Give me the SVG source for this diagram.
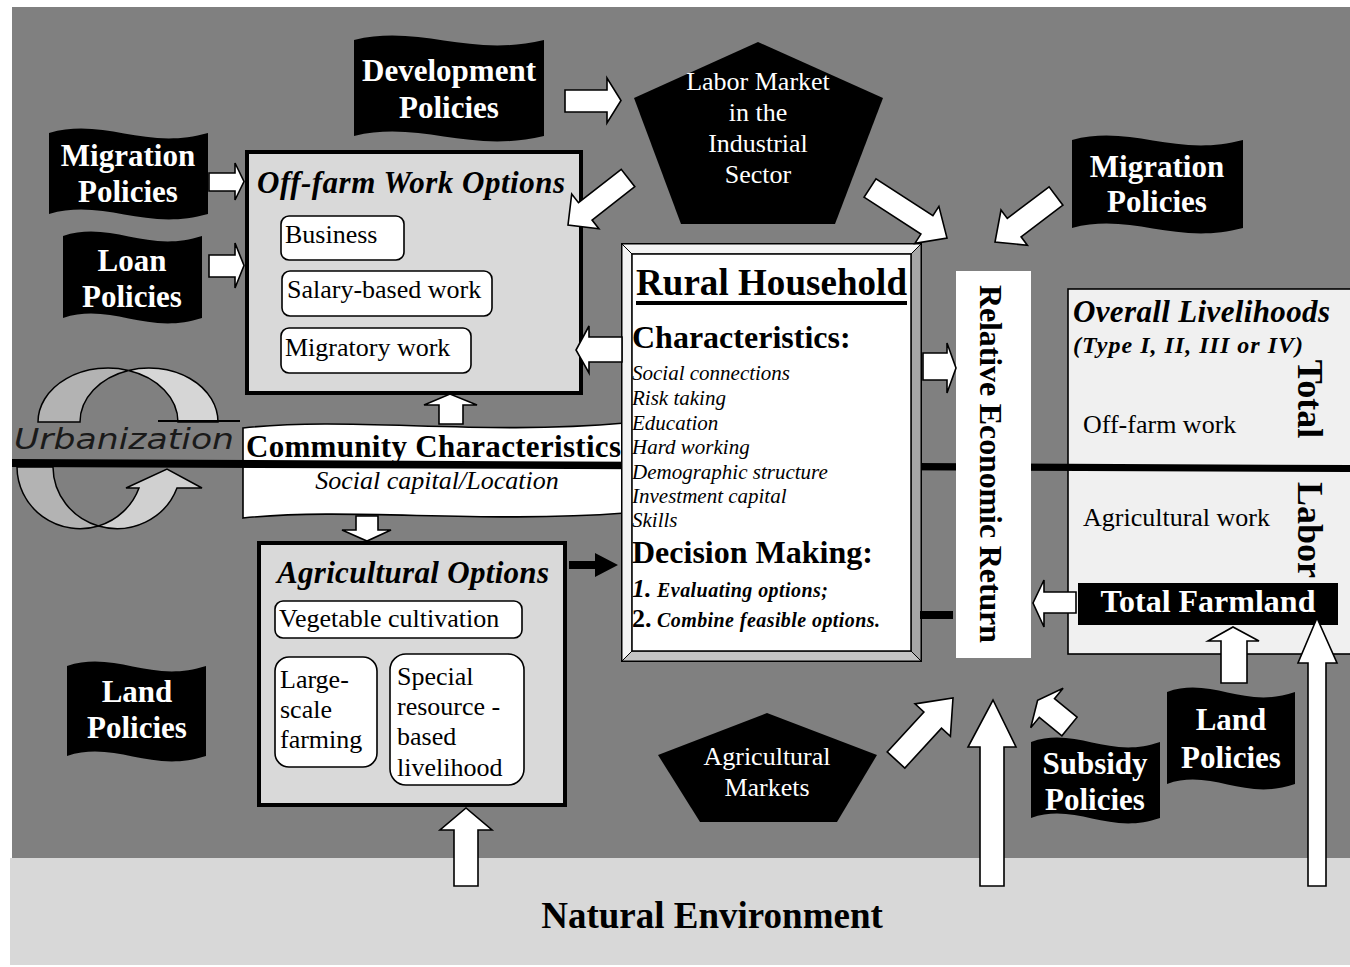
<svg xmlns="http://www.w3.org/2000/svg" width="1350" height="967" viewBox="0 0 1350 967">
<style>
text{font-family:"Liberation Serif","Times New Roman",serif}
.ft{fill:#fff;font-weight:bold;font-size:31px;text-anchor:middle}
.pt{fill:#fff;font-size:26px;text-anchor:middle}
.flag,.pent{fill:#000}
.arr{fill:#fff;stroke:#000;stroke-width:1.6;stroke-linejoin:miter}
.opt{fill:#fff;stroke:#000;stroke-width:1.6}
.obox{fill:#d9d9d9;stroke:#000;stroke-width:4}
.ot{font-size:26px}
.bi{font-weight:bold;font-style:italic}
.b{font-weight:bold}
.ch{font-size:21px;font-style:italic}
.cres{stroke:#000;stroke-width:1.5}
</style>
<g id="background">
<rect x="0" y="0" width="1350" height="967" fill="#fff"/>
<rect x="12" y="7" width="1338" height="851" fill="#808080"/>
<rect x="10" y="858" width="1340" height="107" fill="#d8d8d8"/>
</g>
<g id="natural-environment">
<text x="712" y="928" class="b" font-size="37" text-anchor="middle">Natural Environment</text>
</g>
<g id="urbanization">
<path class="cres" fill="#b3b3b3" d="M38,422 A70,54 0 0 1 128.5,370.4 A69,54 0 0 0 80,422 Z"/>
<path class="cres" fill="#d6d6d6" d="M128.5,370.4 A69,54 0 0 1 218,422 L178,422 A70,54 0 0 0 128.5,370.4 Z"/>
<path class="cres" fill="#b3b3b3" d="M17,467 A63,62 0 0 0 98.5,526 A64,62 0 0 1 53,467 Z"/>
<path class="cres" fill="#d0d0d0" d="M98.5,526 A63,62 0 0 0 139,488 L126,488 L167,469 L202,488 L177,488 A64,62 0 0 1 98.5,526 Z"/>
<line x1="158" y1="421" x2="240" y2="421" stroke="#000" stroke-width="2"/>
<text x="14" y="449" font-style="italic" font-size="28" fill="#1a1a1a" textLength="220" lengthAdjust="spacingAndGlyphs" style="font-family:'DejaVu Sans',sans-serif">Urbanization</text>
</g>
<g id="livelihoods">
<rect x="1068" y="289" width="290" height="365" fill="#f0f0f0" stroke="#000" stroke-width="1.6"/>
<text x="1073" y="322" class="bi" font-size="31" textLength="257">Overall Livelihoods</text>
<text x="1073" y="353" class="bi" font-size="24" textLength="230">(Type I, II, III or IV)</text>
<text x="1083" y="433" font-size="26">Off-farm work</text>
<text x="1083" y="526" font-size="26">Agricultural work</text>
<text transform="translate(1298,399) rotate(90)" class="b" font-size="36" text-anchor="middle">Total</text>
<text transform="translate(1298,530) rotate(90)" class="b" font-size="36" text-anchor="middle">Labor</text>
</g>
<g id="community">
<path d="M243,428 C350,416 480,436 625,423 L625,513 C480,524 350,507 243,518 Z" fill="#fff" stroke="#000" stroke-width="1.6"/>
<text x="246" y="457" class="b" font-size="31" textLength="375">Community Characteristics</text>
<text x="437" y="489" font-size="26" font-style="italic" text-anchor="middle">Social capital/Location</text>
</g>
<g id="divider">
<polygon points="12,459 1350,465 1350,472 12,467" fill="#000"/>
</g>
<g id="total-farmland">
<rect x="1078" y="583" width="260" height="42" fill="#000"/>
<text x="1208" y="612" class="b" font-size="32" fill="#fff" text-anchor="middle">Total Farmland</text>
</g>
<g id="off-farm">
<rect class="obox" x="247" y="152" width="334" height="241"/>
<text x="257" y="193" class="bi" font-size="31" textLength="308">Off-farm Work Options</text>
<rect class="opt" x="281" y="216" width="123" height="44" rx="8"/>
<text x="285" y="243" class="ot">Business</text>
<rect class="opt" x="282" y="271" width="210" height="45" rx="8"/>
<text x="287" y="298" class="ot">Salary-based work</text>
<rect class="opt" x="281" y="328" width="190" height="45" rx="8"/>
<text x="285" y="356" class="ot">Migratory work</text>
</g>
<g id="agricultural">
<rect class="obox" x="259" y="543" width="306" height="262"/>
<text x="277" y="583" class="bi" font-size="31" textLength="272">Agricultural Options</text>
<rect class="opt" x="275" y="601" width="247" height="37" rx="8"/>
<text x="279" y="627" class="ot">Vegetable cultivation</text>
<rect class="opt" x="275" y="657" width="102" height="110" rx="14"/>
<text x="280" y="688" class="ot">Large-</text>
<text x="280" y="718" class="ot">scale</text>
<text x="280" y="748" class="ot">farming</text>
<rect class="opt" x="390" y="654" width="134" height="131" rx="16"/>
<text x="397" y="685" class="ot">Special</text>
<text x="397" y="715" class="ot">resource -</text>
<text x="397" y="745" class="ot">based</text>
<text x="397" y="776" class="ot">livelihood</text>
</g>
<g id="development-policies">
<path class="flag" d="M354,40 C420.5,24 468,58 544,40 L544,136 C468,154 420.5,120 354,136 Z"/>
<text x="449" y="81" class="ft">Development</text>
<text x="449" y="118" class="ft">Policies</text>
</g>
<g id="migration-policies-left">
<path class="flag" d="M49,133 C104.7,117 144.4,151 208,133 L208,214 C144.4,232 104.7,198 49,214 Z"/>
<text x="128" y="166" class="ft">Migration</text>
<text x="128" y="202" class="ft">Policies</text>
</g>
<g id="loan-policies">
<path class="flag" d="M63,236 C111.7,220 146.4,254 202,236 L202,318 C146.4,336 111.7,302 63,318 Z"/>
<text x="132" y="271" class="ft">Loan</text>
<text x="132" y="307" class="ft">Policies</text>
</g>
<g id="land-policies-left">
<path class="flag" d="M67,666 C115.7,650 150.4,684 206,666 L206,756 C150.4,774 115.7,740 67,756 Z"/>
<text x="137" y="702" class="ft">Land</text>
<text x="137" y="738" class="ft">Policies</text>
</g>
<g id="migration-policies-right">
<path class="flag" d="M1072,140 C1131.9,124 1174.6,158 1243,140 L1243,228 C1174.6,246 1131.9,212 1072,228 Z"/>
<text x="1157" y="177" class="ft">Migration</text>
<text x="1157" y="212" class="ft">Policies</text>
</g>
<g id="subsidy-policies">
<path class="flag" d="M1031,742 C1076.2,726 1108.4,760 1160,742 L1160,818 C1108.4,836 1076.2,802 1031,818 Z"/>
<text x="1095" y="774" class="ft">Subsidy</text>
<text x="1095" y="810" class="ft">Policies</text>
</g>
<g id="land-policies-right">
<path class="flag" d="M1167,692 C1211.8,676 1243.8,710 1295,692 L1295,784 C1243.8,802 1211.8,768 1167,784 Z"/>
<text x="1231" y="730" class="ft">Land</text>
<text x="1231" y="768" class="ft">Policies</text>
</g>
<g id="labor-market">
<polygon class="pent" points="758,42 883,98 835,224 681,224 634,98"/>
<text x="758" y="90" class="pt">Labor Market</text>
<text x="758" y="121" class="pt">in the</text>
<text x="758" y="152" class="pt">Industrial</text>
<text x="758" y="183" class="pt">Sector</text>
</g>
<g id="agricultural-markets">
<polygon class="pent" points="767,713 877,755 837,822 700,822 658,755"/>
<text x="767" y="765" class="pt">Agricultural</text>
<text x="767" y="796" class="pt">Markets</text>
</g>
<g id="rural-household">
<rect x="622" y="244" width="299" height="417" fill="#fff" stroke="#000" stroke-width="2"/>
<polygon points="921,244 921,661 911,651 911,254" fill="#a6a6a6" stroke="#000" stroke-width="1"/>
<polygon points="622,661 921,661 911,651 632,651" fill="#c4c4c4" stroke="#000" stroke-width="1"/>
<polygon points="622,244 921,244 911,254 632,254" fill="#f4f4f4" stroke="#000" stroke-width="1"/>
<polygon points="622,244 632,254 632,651 622,661" fill="#f4f4f4" stroke="#000" stroke-width="1"/>
<rect x="632" y="254" width="279" height="397" fill="#fff" stroke="#000" stroke-width="1.5"/>
<text x="636" y="295" class="b" font-size="37" textLength="271">Rural Household</text>
<rect x="636" y="301" width="271" height="4" fill="#000"/>
<text x="632" y="348" class="b" font-size="32">Characteristics:</text>
<text x="632" y="380" class="ch">Social connections</text>
<text x="632" y="405" class="ch">Risk taking</text>
<text x="632" y="430" class="ch">Education</text>
<text x="632" y="454" class="ch">Hard working</text>
<text x="632" y="479" class="ch">Demographic structure</text>
<text x="632" y="503" class="ch">Investment capital</text>
<text x="632" y="527" class="ch">Skills</text>
<text x="632" y="563" class="b" font-size="32">Decision Making:</text>
<text x="632" y="597" class="bi" font-size="26">1.</text>
<text x="657" y="597" class="bi" font-size="20" textLength="171">Evaluating options;</text>
<text x="632" y="627" class="b" font-size="26">2.</text>
<text x="657" y="627" class="bi" font-size="20" textLength="223">Combine feasible options.</text>
</g>
<g id="relative-economic-return">
<rect x="956" y="271" width="75" height="387" fill="#fff"/>
<text transform="translate(980,464) rotate(90)" class="b" font-size="32" text-anchor="middle" textLength="358">Relative Economic Return</text>
</g>
<g id="connectors">
<rect x="920" y="611" width="33" height="8" fill="#000"/>
<polygon class="arr" points="565,90 607,90 607,78 621,100.5 607,123 607,112 565,112"/>
<polygon class="arr" points="209,173 235,173 235,163 244,181.5 235,200 235,191 209,191"/>
<polygon class="arr" points="209,255 235,255 235,243 244,265.5 235,288 235,277 209,277"/>
<polygon class="arr" points="621.2,169.3 578.5,202.7 571.7,194.1 568,225 598.9,228.7 592.1,220.1 634.8,186.7"/>
<polygon class="arr" points="864,197.2 920.9,234.1 914.9,243.4 947,238 938.9,206.4 932.9,215.7 876,178.8"/>
<polygon class="arr" points="1049.1,186.8 1007.3,218.4 1001,210 995,242 1027.4,245.2 1021.1,236.8 1062.9,205.2"/>
<polygon class="arr" points="622,337 589,337 589,326 576,350 589,373 589,362 622,362"/>
<polygon class="arr" points="439,424 439,405 424,405 450,394 477,405 463,405 463,424"/>
<polygon class="arr" points="356,516 378,516 378,530 391,530 367,541 342,530 356,530"/>
<polygon points="569,561 595,561 595,553 618,565 595,577 595,569 569,569" fill="#000"/>
<polygon class="arr" points="923,353 947,353 947,343 956,368 947,393 947,380 923,380"/>
<polygon class="arr" points="1076,592 1044,592 1044,580 1033,603 1044,627 1044,613 1076,613"/>
<polygon class="arr" points="904.8,768.1 941.5,728.2 950.4,736.3 953,698 915,703.9 923.9,712 887.2,751.9"/>
<polygon class="arr" points="1077.1,717.2 1054.5,698.7 1063.1,688.2 1037.6,700.4 1030.7,727.8 1039.3,717.3 1061.9,735.8"/>
<polygon class="arr" points="980,886 980,747 968,747 993,700 1016,747 1004,747 1004,886"/>
<polygon class="arr" points="1221,683 1221,641 1208,641 1233,627 1259,641 1247,641 1247,683"/>
<polygon class="arr" points="1308,886 1308,663 1298,663 1317,618 1337,663 1326,663 1326,886"/>
<polygon class="arr" points="454,886 454,830 440,830 466,808 492,830 478,830 478,886"/>
</g>
</svg>
